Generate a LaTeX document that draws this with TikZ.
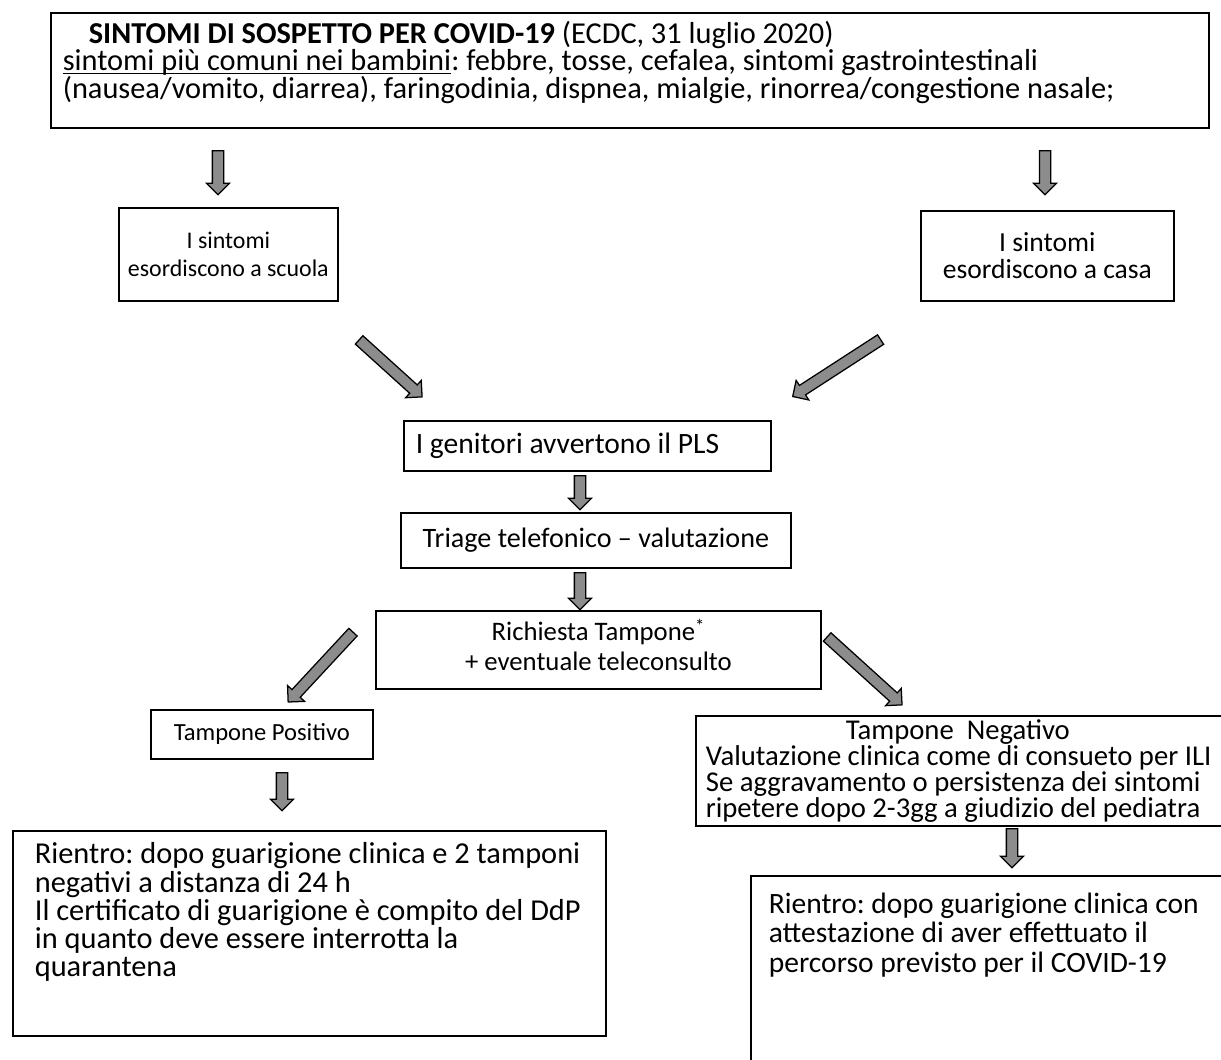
\documentclass[tikz,border=0pt]{standalone}
\usepackage{fontspec}
\setmainfont{Carlito}
\usetikzlibrary{positioning,calc,shapes.arrows}
\definecolor{ArrowGray}{RGB}{140,140,140}

% block arrow between two named points
\newcommand{\fatarrow}[3]{%
  \path let \p1=(#2), \p2=(#3),
    \n1={atan2(\y2-\y1,\x2-\x1)}, \n2={veclen(\x2-\x1,\y2-\y1)} in
    node[fatarr, minimum height=\n2, rotate=\n1] (#1) at ($(#2)!0.5!(#3)$) {};}
% font size with its line distance
\newcommand{\fs}[2]{\fontsize{#1}{#2}\selectfont\lineskiplimit=-20pt\frenchspacing}
% underline close to the baseline
\newsavebox{\ulbox}
\newcommand{\undl}[1]{\leavevmode\sbox\ulbox{#1}\rlap{\rule[-2.5pt]{\wd\ulbox}{0.9pt}}\usebox\ulbox}

\begin{document}
\begin{tikzpicture}[
    x=0.025cm, y=-0.025cm,
    font={\fs{21}{20}},
    box/.style={
        draw,
        line width=1.2pt,
        anchor=north west,
        inner xsep=0.2cm,
        inner ysep=0pt
    },
    tbox/.style={
        draw,
        line width=1.2pt,
        anchor=north west,
        inner ysep=0.3cm
    },
    fatarr/.style={
        single arrow,
        draw=black,
        line width=0.9pt,
        fill=ArrowGray,
        inner sep=0.125cm,
        single arrow head extend=0.15cm,
        single arrow tip angle=90
    }
]
\useasboundingbox (0,0) rectangle (1221,1059);
\clip (0,0) rectangle (1221,1059);

% boxes
\node[tbox, inner xsep=0.3cm, inner ysep=0.2cm, font={\fs{21.6}{19.6}}] (sintomi) at (50,12) {\parbox[c][2.475cm][t]{28.35cm}{\raggedright\hspace*{0.65cm}\textbf{SINTOMI DI SOSPETTO PER COVID-19} (ECDC, 31 luglio 2020)\\
  \undl{sintomi più comuni nei bambini}: febbre, tosse, cefalea, sintomi gastrointestinali\\
  (nausea/vomito, diarrea), faringodinia, dispnea, mialgie, rinorrea/congestione nasale;}};

\node[box, text width=5.075cm, minimum height=2.325cm, align=flush center, font={\fs{17}{20}}] (scuola) at (118,207) {I sintomi\\esordiscono a scuola};
\node[box, text width=5.925cm, minimum height=2.25cm, align=flush center, font={\fs{19.6}{19.5}}] (casa) at (920,210) {I sintomi\\esordiscono a casa};

\node[box, inner xsep=0.3cm, text width=8.575cm, minimum height=1.25cm, align=flush left] (genitori) at (403,420) {I genitori avvertono il PLS};
\node[box, minimum width=9.75cm, minimum height=1.375cm, font={\fs{20}{20}}] (triage) at (400,512) {Triage telefonico -- valutazione};
\node[box, inner ysep=0.2cm, font={\fs{19}{21}}] (richiesta) at (375,610) {\parbox[c][1.55cm][t]{10.725cm}{\centering Richiesta Tampone\textsuperscript{*}\\+ eventuale teleconsulto}};

\node[box, minimum width=5.55cm, minimum height=1.225cm, font={\fs{17.5}{20}}] (positivo) at (150,709) {Tampone Positivo};
\node[tbox, inner xsep=0.55cm, font={\fs{21.6}{20}}] (rientroP) at (12,830) {\parbox[c][4.525cm][t]{13.725cm}{\raggedright Rientro: dopo guarigione clinica e 2 tamponi\\
  negativi a distanza di 24 h\\
  Il certificato di guarigione è compito del DdP\\
  in quanto deve essere interrotta la\\
  quarantena}};

\node[box, inner xsep=0.25cm, text width=13.5cm, minimum height=2.75cm, align=flush left, font={\fs{20.4}{18.5}}] (negativo) at (695,715) {\hspace*{3.5cm}Tampone\ \ Negativo\\
  Valutazione clinica come di consueto per ILI\\
  Se aggravamento o persistenza dei sintomi\\
  ripetere dopo 2-3gg a giudizio del pediatra};
\node[tbox, inner xsep=0.45cm, inner ysep=0.42cm, font={\fs{21}{21}}] (rientroN) at (750,875) {\parbox[c][4.2cm][t]{11.6cm}{\raggedright Rientro: dopo guarigione clinica con\\
  attestazione di aver effettuato il\\
  percorso previsto per il COVID-19}};

% arrow ends
\coordinate (a1s) at (218,148);  \coordinate (a1e) at (218,192);
\coordinate (a2s) at (1045,148); \coordinate (a2e) at (1045,192);
\coordinate (a3s) at (357,338);  \coordinate (a3e) at (420,395);
\coordinate (a4s) at (883,338);  \coordinate (a4e) at (795,395);
\coordinate (a5s) at (580,473);  \coordinate (a5e) at (580,507);
\coordinate (a6s) at (580,570);  \coordinate (a6e) at (580,607);
\coordinate (a7s) at (355,630);  \coordinate (a7e) at (290,700);
\coordinate (a8s) at (825,635);  \coordinate (a8e) at (900,703);
\coordinate (a9s) at (282,770);  \coordinate (a9e) at (282,808);
\coordinate (a10s) at (1012,826); \coordinate (a10e) at (1012,865);

% block arrows
\fatarrow{toScuola}{a1s}{a1e}
\fatarrow{toCasa}{a2s}{a2e}
\fatarrow{scuolaGen}{a3s}{a3e}
\fatarrow{casaGen}{a4s}{a4e}
\fatarrow{genTriage}{a5s}{a5e}
\fatarrow{triageRich}{a6s}{a6e}
\fatarrow{richPos}{a7s}{a7e}
\fatarrow{richNeg}{a8s}{a8e}
\fatarrow{posRientro}{a9s}{a9e}
\fatarrow{negRientro}{a10s}{a10e}

\end{tikzpicture}
\end{document}
